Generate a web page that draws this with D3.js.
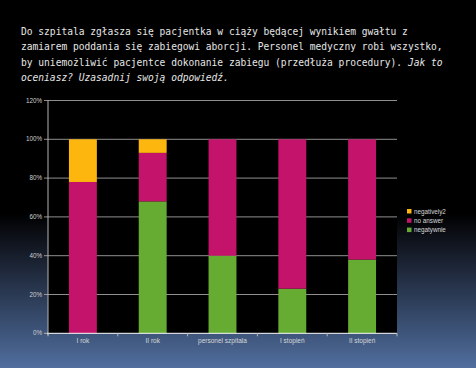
<!DOCTYPE html>
<html><head><meta charset="utf-8">
<script src="https://cdn.jsdelivr.net/npm/d3@7"></script>
<style>html,body{margin:0;padding:0;background:#000;}svg{display:block;}</style>
</head><body>
<script>
const categories = ["I rok", "II rok", "personel szpitala", "I stopień", "II stopień"];
const negatywnie = [0, 68, 40, 23, 38];
const noAnswer = [78, 25, 60, 77, 62];
const negatively2 = [22, 7, 0, 0, 0];
const seriesNames = ["negatywnie", "no answer", "negatively2"];
const seriesColors = ["#66ab32", "#c4136a", "#fdb60e"];
const yTicks = [0, 20, 40, 60, 80, 100, 120];
const titleLines = [
  [["Do szpitala zgłasza się pacjentka w ciąży będącej wynikiem gwałtu z", false]],
  [["zamiarem poddania się zabiegowi aborcji. Personel medyczny robi wszystko,", false]],
  [["by uniemożliwić pacjentce dokonanie zabiegu (przedłuża procedury). ", false], ["Jak to", true]],
  [["oceniasz? Uzasadnij swoją odpowiedź.", true]]
];

const W = 476, H = 368;
const svg = d3.select("body").append("svg").attr("width", W).attr("height", H);
const defs = svg.append("defs");
const grad = defs.append("linearGradient").attr("id", "bg").attr("x1", 0).attr("y1", 0).attr("x2", 0).attr("y2", 1);
grad.append("stop").attr("offset", "0%").attr("stop-color", "#000");
grad.append("stop").attr("offset", "58%").attr("stop-color", "#000");
grad.append("stop").attr("offset", "68%").attr("stop-color", "#141a26");
grad.append("stop").attr("offset", "100%").attr("stop-color", "#506e9e");
svg.append("rect").attr("width", W).attr("height", H).attr("fill", "url(#bg)");

// title
const tg = svg.append("g").attr("transform", "translate(21,0) scale(0.915,1)");
titleLines.forEach((parts, i) => {
  const t = tg.append("text").attr("x", 0).attr("y", 35 + i * 15.3)
    .attr("font-family", "DejaVu Sans Mono").attr("font-size", 10.5).attr("fill", "#e6e6e6")
    .attr("xml:space", "preserve");
  parts.forEach(([s, it]) => t.append("tspan").attr("font-style", it ? "italic" : "normal").text(s));
});

const m = {left: 48, right: 397, top: 100.5, bottom: 333.3};
const x = d3.scaleBand().domain(categories).range([m.left, m.right]).paddingInner(0.6).paddingOuter(0.3);
const xb = d3.scaleBand().domain(categories).range([m.left, m.right]);
const y = d3.scaleLinear().domain([0, 120]).range([m.bottom, m.top]);

svg.append("rect").attr("x", m.left).attr("y", m.top).attr("width", m.right - m.left).attr("height", m.bottom - m.top).attr("fill", "#000");

// gridlines
svg.append("g").selectAll("line").data(yTicks.filter(d => d > 0)).join("line")
  .attr("x1", m.left - 4).attr("x2", m.right).attr("y1", d => y(d)).attr("y2", d => y(d))
  .attr("stroke", "#b4b4b4").attr("stroke-width", 0.8);

// stacked data
const rows = categories.map((c, i) => ({cat: c, negatywnie: negatywnie[i], "no answer": noAnswer[i], negatively2: negatively2[i]}));
const stack = d3.stack().keys(seriesNames)(rows);
svg.append("g").selectAll("g").data(stack).join("g").attr("fill", (d, i) => seriesColors[i])
  .selectAll("rect").data(d => d).join("rect")
  .attr("x", d => x(d.data.cat)).attr("width", x.bandwidth())
  .attr("y", d => y(d[1])).attr("height", d => y(d[0]) - y(d[1]));

// y axis
svg.append("line").attr("x1", m.left).attr("x2", m.left).attr("y1", m.top).attr("y2", m.bottom + 2).attr("stroke", "#b4b4b4").attr("stroke-width", 1);
svg.append("g").selectAll("text").data(yTicks).join("text")
  .attr("x", m.left - 6).attr("y", d => y(d) + 2)
  .attr("text-anchor", "end").attr("font-family", "Liberation Sans, Arial").attr("font-size", 6.3).attr("fill", "#d0d0d0")
  .text(d => d + "%");
svg.append("line").attr("x1", m.left - 4).attr("x2", m.left).attr("y1", m.bottom).attr("y2", m.bottom).attr("stroke", "#b4b4b4");

// x axis
svg.append("line").attr("x1", m.left - 1).attr("x2", m.right).attr("y1", m.bottom).attr("y2", m.bottom).attr("stroke", "#fff").attr("stroke-width", 1);
const bounds = categories.map(c => xb(c)).concat([m.right]);
svg.append("g").selectAll("line").data(bounds).join("line")
  .attr("x1", d => d).attr("x2", d => d).attr("y1", m.bottom).attr("y2", m.bottom + 3)
  .attr("stroke", "#b4b4b4");
svg.append("g").selectAll("text").data(categories).join("text")
  .attr("x", d => xb(d) + xb.bandwidth() / 2).attr("y", 342.5)
  .attr("text-anchor", "middle").attr("font-family", "Liberation Sans, Arial").attr("font-size", 6.5).attr("fill", "#d8d8d8")
  .text(d => d);

// legend
const legendOrder = [2, 1, 0];
const lg = svg.append("g").selectAll("g").data(legendOrder).join("g")
  .attr("transform", (d, i) => `translate(407,${209 + i * 9.3})`);
lg.append("rect").attr("width", 4.5).attr("height", 4.5).attr("fill", d => seriesColors[d]);
lg.append("text").attr("x", 7).attr("y", 4.5).attr("font-family", "Liberation Sans, Arial").attr("font-size", 6.3).attr("fill", "#d8d8d8")
  .text(d => seriesNames[d]);
</script>
</body></html>
